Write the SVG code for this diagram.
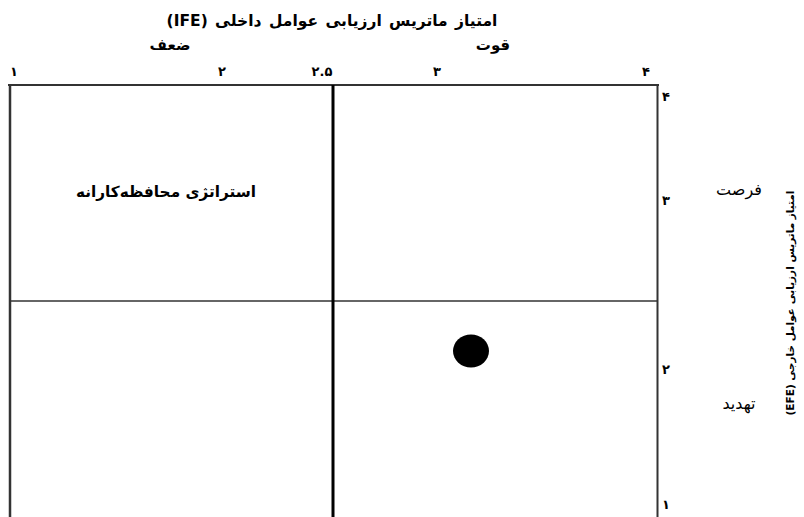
<svg xmlns="http://www.w3.org/2000/svg" width="804" height="517" viewBox="0 0 804 517">
<style>
text{font-family:"DejaVu Sans","Noto Sans",sans-serif;fill:#000;}
.t{font-size:15.5px;font-weight:bold;text-anchor:middle;word-spacing:2px;}
.n{font-size:13px;font-weight:bold;text-anchor:middle;}
.l{font-size:15px;font-weight:bold;text-anchor:middle;}
.s{font-size:16px;text-anchor:middle;}
.frame{stroke:#333;fill:none;}
</style>
<rect width="804" height="517" fill="#fff"/>
<g id="title">
<text class="t" x="332" y="26" direction="rtl">امتیاز ماتریس ارزیابی عوامل داخلی (IFE)</text>
<text class="l" x="170" y="50" direction="rtl">ضعف</text>
<text class="l" x="493" y="50" direction="rtl">قوت</text>
</g>
<g id="x-axis">
<text class="n" x="14" y="76">۱</text>
<text class="n" x="222" y="76">۲</text>
<text class="n" x="322" y="76">۲.۵</text>
<text class="n" x="437" y="76">۳</text>
<text class="n" x="646" y="76">۴</text>
</g>
<g id="y-axis">
<text class="n" x="666" y="101">۴</text>
<text class="n" x="666" y="205">۳</text>
<text class="n" x="666" y="374">۲</text>
<text class="n" x="666" y="509">۱</text>
<text class="s" x="739" y="195" direction="rtl">فرصت</text>
<text class="s" x="739" y="409" direction="rtl">تهدید</text>
<text transform="translate(794,303) rotate(-90)" style="font-size:10.5px;font-weight:bold;text-anchor:middle" direction="rtl">امتیاز ماتریس ارزیابی عوامل خارجی (EFE)</text>
</g>
<g id="connectors">
<line class="frame" x1="8" y1="85" x2="659" y2="85" stroke-width="2"/>
<line class="frame" x1="10" y1="85" x2="10" y2="517" stroke-width="2.5"/>
<line class="frame" x1="657.5" y1="85" x2="657.5" y2="517" stroke-width="2"/>
<line class="frame" x1="10" y1="301" x2="657" y2="301" stroke-width="1.5"/>
<line x1="333" y1="85" x2="333" y2="517" stroke="#000" stroke-width="3"/>
</g>
<g id="quadrant-conservative">
<text x="166" y="197" style="font-size:15.3px;font-weight:bold;text-anchor:middle" direction="rtl">استراتژی محافظه‌کارانه</text>
</g>
<g id="position-point">
<ellipse cx="471" cy="351" rx="18" ry="16.5" fill="#000"/>
</g>
</svg>
